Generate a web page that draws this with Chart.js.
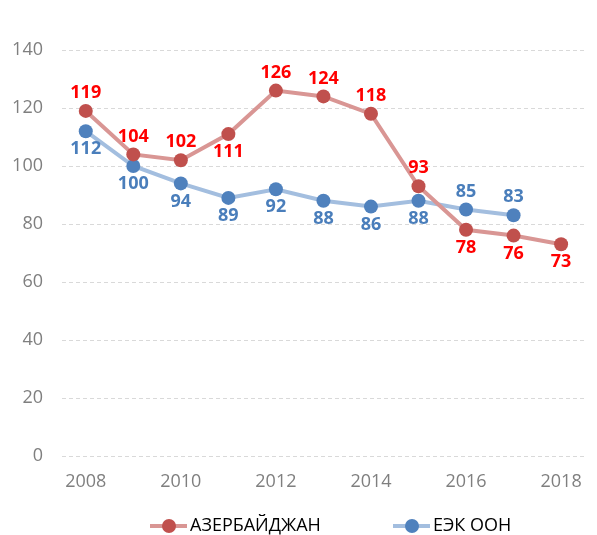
<!DOCTYPE html>
<html>
<head>
<meta charset="utf-8">
<script src="https://cdn.jsdelivr.net/npm/chart.js@4/dist/chart.umd.min.js"></script>
<style>
  html, body { margin: 0; padding: 0; background: #fff; }
  #wrap { width: 597px; height: 535px; }
</style>
</head>
<body>
<div id="wrap"><canvas id="lineChart"></canvas></div>
<script>
const years = ["2008", "2009", "2010", "2011", "2012", "2013", "2014", "2015", "2016", "2017", "2018"];
const azerbaijan = [119, 104, 102, 111, 126, 124, 118, 93, 78, 76, 73];
const unece = [112, 100, 94, 89, 92, 88, 86, 88, 85, 83, null];
// where each value label sits relative to its point
const azLabelPos = ["up", "up", "up", "down", "up", "up", "up", "up", "down", "down", "down"];
const uneceLabelPos = ["down", "down", "down", "down", "down", "down", "down", "down", "up", "up", null];
const yTicks = [0, 20, 40, 60, 80, 100, 120, 140];

const labelPositions = [azLabelPos, uneceLabelPos];
const labelColors = ["#FF0000", "#4A7EBB"];

const valueLabels = {
    id: "valueLabels",
    afterDatasetsDraw(chart) {
        const ctx = chart.ctx;
        ctx.save();
        ctx.font = "bold 18px 'Open Sans'";
        ctx.textAlign = "center";
        ctx.textBaseline = "middle";
        chart.data.datasets.forEach((ds, i) => {
            const meta = chart.getDatasetMeta(i);
            meta.data.forEach((pt, j) => {
                const v = ds.data[j];
                if (v === null) return;
                const dy = labelPositions[i][j] === "up" ? -18 : 18;
                ctx.fillStyle = labelColors[i];
                ctx.fillText(String(v), pt.x, pt.y + dy);
            });
        });
        ctx.restore();
    }
};

// legend: short line with a dot, then the name
const lineLegend = {
    id: "lineLegend",
    afterDraw(chart) {
        const ctx = chart.ctx;
        const items = [
            { x: 150, ds: chart.data.datasets[0] },
            { x: 393, ds: chart.data.datasets[1] },
        ];
        const y = 526;
        ctx.save();
        items.forEach(item => {
            ctx.strokeStyle = item.ds.borderColor;
            ctx.lineWidth = 4;
            ctx.beginPath();
            ctx.moveTo(item.x, y);
            ctx.lineTo(item.x + 37, y);
            ctx.stroke();
            ctx.fillStyle = item.ds.pointBackgroundColor;
            ctx.beginPath();
            ctx.arc(item.x + 19, y, 7, 0, Math.PI * 2);
            ctx.fill();
            ctx.fillStyle = "#000";
            ctx.font = "18px 'Open Sans'";
            ctx.textAlign = "left";
            ctx.textBaseline = "middle";
            ctx.fillText(item.ds.label, item.x + 40, y);
        });
        ctx.restore();
    }
};

const ctx = document.getElementById("lineChart").getContext("2d");

const chart = new Chart(ctx, {
    type: "line",
    data: {
        labels: years,
        datasets: [
            {
                label: "АЗЕРБАЙДЖАН",
                data: azerbaijan,
                borderColor: "#D99694",
                borderWidth: 4,
                pointBackgroundColor: "#C0504D",
                pointBorderColor: "#C0504D",
                pointRadius: 7,
                pointBorderWidth: 0,
                tension: 0,
            },
            {
                label: "ЕЭК ООН",
                data: unece,
                borderColor: "#A3BEDF",
                borderWidth: 4,
                pointBackgroundColor: "#4F81BD",
                pointBorderColor: "#4F81BD",
                pointRadius: 7,
                pointBorderWidth: 0,
                tension: 0,
            },
        ],
    },
    options: {
        responsive: true,
        maintainAspectRatio: false,
        animation: false,
        layout: { padding: { top: 50, right: 0, bottom: 29, left: 0 } },
        plugins: {
            legend: { display: false },
            tooltip: { enabled: false },
        },
        scales: {
            x: {
                offset: true,
                grid: { display: false, drawTicks: false },
                border: { display: false },
                ticks: {
                    autoSkip: false,
                    maxRotation: 0,
                    padding: 15,
                    color: "#7F7F7F",
                    font: { family: "'Open Sans'", size: 18 },
                    callback: (val, idx) => (idx % 2 === 0 ? years[idx] : ""),
                },
                afterFit: (scale) => { scale.height = 50; },
            },
            y: {
                min: 0,
                max: 140,
                afterBuildTicks: (scale) => { scale.ticks = yTicks.map(v => ({ value: v })); },
                grid: { color: "#D9D9D9", lineWidth: 1, drawTicks: false },
                border: { display: false, dash: [4, 3] },
                ticks: {
                    padding: 19,
                    color: "#7F7F7F",
                    font: { family: "'Open Sans'", size: 18 },
                },
                afterFit: (scale) => { scale.width = 62; },
            },
        },
    },
    plugins: [valueLabels, lineLegend],
});
</script>
</body>
</html>
